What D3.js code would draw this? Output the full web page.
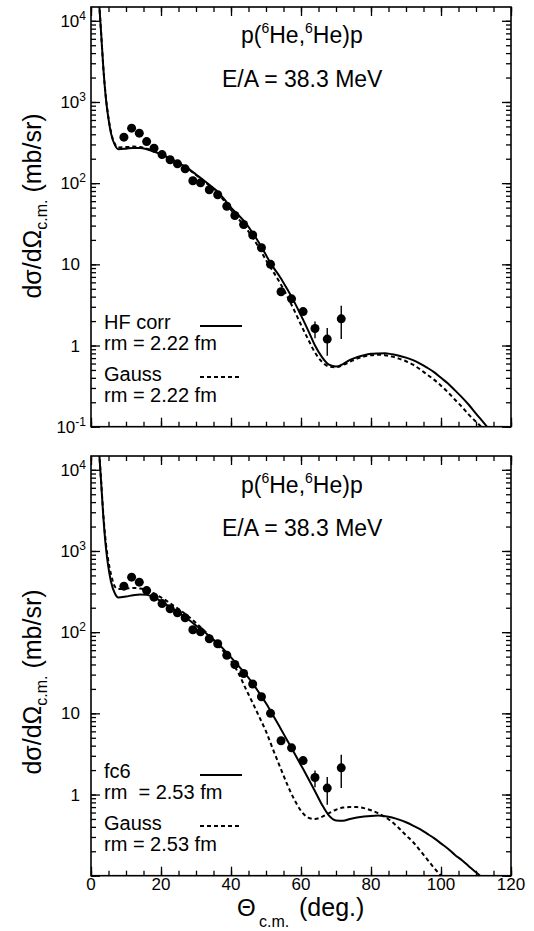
<!DOCTYPE html>
<html><head><meta charset="utf-8">
<script src="https://cdn.jsdelivr.net/npm/d3@7"></script>
<style>
html,body{margin:0;padding:0;background:#fff;}
svg{display:block;font-family:"Liberation Sans",Arial,Helvetica,sans-serif;}
</style></head>
<body><svg id="c" width="534" height="931"></svg>
<script>
// ---- data ----
const expTheta = [9.4,11.6,13.8,15.9,18.0,20.3,22.6,24.7,26.9,29.1,31.3,33.8,36.2,38.8,41.1,43.6,46.2,48.7,51.3,54.3,57.3,60.6,64.0,67.5,71.5];
const expSigma = [369,476,413,325,270,225,194,173,150,107,101,83,72,52,40,31,23,16,10,4.6,3.76,2.62,1.62,1.20,2.13];
const expErrLo = [0,0,0,0,0,0,0,0,0,0,0,0,0,0,0,0,0,0,0,0,0,0,0.39,0.45,0.93];
const expErrHi = [0,0,0,0,0,0,0,0,0,0,0,0,0,0,0,0,0,0,0,0,0,0,0.36,0.44,0.95];

const curveTheta = [2.2,2.9,3.5,4.3,4.9,5.7,6.9,7.8,10,12,14,16,18,20,22,24,26,28,30,32,34,36,38,40,42,44,46,48,50,52,54,56,58,60,62,64,66,68,70,72,74,76,78,80,82,84,86,88,90,92,94,96,98,100,102,104,106,108,110,112,114];
const hfCorr  = [20000,7000,2730,1060,660,413,290,262,266,272,272,262,245,228,207,187,168,149,128,110,94,80,64,50,41,33,25,18.5,13,9.3,7.0,5.0,3.5,2.35,1.55,1.0,0.72,0.58,0.55,0.59,0.665,0.72,0.76,0.79,0.80,0.805,0.78,0.75,0.71,0.66,0.60,0.535,0.47,0.40,0.34,0.28,0.23,0.185,0.145,0.115,0.09];
const gaussA  = [20000,7000,2730,1080,680,430,300,275,278,282,278,265,247,228,207,186,166,147,126,108,92,77,61,47,37,29,22,16,11.3,8.2,5.9,4.1,2.75,1.8,1.2,0.82,0.63,0.55,0.54,0.575,0.63,0.69,0.73,0.76,0.77,0.76,0.73,0.69,0.64,0.58,0.51,0.44,0.38,0.32,0.265,0.215,0.175,0.14,0.115,0.095,0.075];
const fc6     = [20000,7000,2730,1060,660,420,295,268,275,285,292,288,268,240,212,187,163,141,121,104,88,74,61,49,39,31,24,18,13.3,9.5,6.7,4.7,3.3,2.3,1.6,1.1,0.75,0.55,0.48,0.475,0.50,0.52,0.535,0.545,0.55,0.54,0.52,0.49,0.455,0.415,0.375,0.33,0.29,0.25,0.215,0.18,0.155,0.13,0.11,0.093,0.078];
const gaussB  = [20000,7200,2900,1200,780,520,360,340,345,350,345,330,300,268,237,207,180,154,130,108,89,72,57,44,32,21,14,9.2,6.0,3.6,2.2,1.35,0.88,0.63,0.52,0.50,0.53,0.59,0.65,0.69,0.70,0.70,0.68,0.64,0.59,0.53,0.46,0.385,0.315,0.26,0.205,0.16,0.125,0.10,0.08,0.065,0.05,0.04,0.03,0.025,0.02];

const xTickValues = [0,20,40,60,80,100,120];
const yMajor = [0.1,1,10,100,1000,10000];

const panels = [
  {top:7, bottom:426.7, solid:hfCorr, dashed:gaussA,
   legend:[["HF corr","rm = 2.22 fm"],["Gauss","rm = 2.22 fm"]],
   yLabels:[0.1,1,10,100,1000,10000], xLabels:false, titleY:43, energyY:87, yTitleCenter:206},
  {top:456, bottom:875.7, solid:fc6, dashed:gaussB,
   legend:[["fc6","rm  = 2.53 fm"],["Gauss","rm = 2.53 fm"]],
   yLabels:[1,10,100,1000,10000], xLabels:true, titleY:493, energyY:536, yTitleCenter:682}
];

const svg = d3.select("#c");
const L = 91, R = 511;
const x = d3.scaleLinear().domain([0,120]).range([L,R]);

const xMinor = d3.range(0,121,5);
function yMinorTicks(){
  const out=[];
  for(let e=-1;e<=4;e++) for(let k=1;k<=9;k++){const v=k*Math.pow(10,e); if(v<=Math.pow(10,4.17)) out.push(v);}
  return out;
}

panels.forEach((p,i)=>{
  const y = d3.scaleLog().domain([0.1,Math.pow(10,4.17)]).range([p.bottom,p.top]);
  const g = svg.append("g");
  const clipId = "clip"+i;
  svg.append("defs").append("clipPath").attr("id",clipId)
    .append("rect").attr("x",L).attr("y",p.top).attr("width",R-L).attr("height",p.bottom-p.top);

  // axes: ticks inward on all four sides
  const axStyle = sel=>{sel.select(".domain").remove(); sel.selectAll("line").attr("stroke","#000").attr("stroke-width",1.3); sel.selectAll("text").remove();};
  g.append("g").attr("transform",`translate(0,${p.bottom})`).call(d3.axisBottom(x).tickValues(xMinor).tickSize(-5)).call(axStyle);
  g.append("g").attr("transform",`translate(0,${p.bottom})`).call(d3.axisBottom(x).tickValues(xTickValues).tickSize(-9)).call(axStyle);
  g.append("g").attr("transform",`translate(0,${p.top})`).call(d3.axisTop(x).tickValues(xMinor).tickSize(-5)).call(axStyle);
  g.append("g").attr("transform",`translate(0,${p.top})`).call(d3.axisTop(x).tickValues(xTickValues).tickSize(-9)).call(axStyle);
  g.append("g").attr("transform",`translate(${L},0)`).call(d3.axisLeft(y).tickValues(yMinorTicks()).tickSize(-5)).call(axStyle);
  g.append("g").attr("transform",`translate(${L},0)`).call(d3.axisLeft(y).tickValues(yMajor).tickSize(-9)).call(axStyle);
  g.append("g").attr("transform",`translate(${R},0)`).call(d3.axisRight(y).tickValues(yMinorTicks()).tickSize(-5)).call(axStyle);
  g.append("g").attr("transform",`translate(${R},0)`).call(d3.axisRight(y).tickValues(yMajor).tickSize(-9)).call(axStyle);

  g.append("rect").attr("x",L).attr("y",p.top).attr("width",R-L).attr("height",p.bottom-p.top)
    .attr("fill","none").attr("stroke","#000").attr("stroke-width",1.6);

  // y tick labels
  p.yLabels.forEach(v=>{
    const e = Math.round(Math.log10(v));
    const t = g.append("text").attr("x",86).attr("y",y(v)+6).attr("text-anchor","end").attr("font-size",17);
    if(e===0||e===1){ t.text(String(v)); t.attr("x",80);}
    else { t.append("tspan").text("10"); t.append("tspan").attr("dy",-7).attr("font-size",12).text(String(e)); }
  });
  if(p.xLabels){
    xTickValues.forEach(v=>{
      g.append("text").attr("x",x(v)).attr("y",p.bottom+14.5).attr("text-anchor","middle").attr("font-size",17).text(v);
    });
  }

  // curves
  const line = d3.line().x((d,j)=>x(curveTheta[j])).y(d=>y(d)).curve(d3.curveMonotoneX);
  const cg = g.append("g").attr("clip-path",`url(#${clipId})`);
  cg.append("path").attr("d",line(p.solid)).attr("fill","none").attr("stroke","#000").attr("stroke-width",2);
  cg.append("path").attr("d",line(p.dashed)).attr("fill","none").attr("stroke","#000").attr("stroke-width",2).attr("stroke-dasharray","4,3");

  // data points
  expTheta.forEach((t,j)=>{
    if(expErrLo[j]>0){
      cg.append("line").attr("x1",x(t)).attr("x2",x(t)).attr("y1",y(expSigma[j]-expErrLo[j])).attr("y2",y(expSigma[j]+expErrHi[j]))
        .attr("stroke","#000").attr("stroke-width",1.4);
    }
    cg.append("circle").attr("cx",x(t)).attr("cy",y(expSigma[j])).attr("r",4.5).attr("fill","#000");
  });

  // titles inside panel
  const tt = g.append("text").attr("x",241).attr("y",p.titleY).attr("font-size",23);
  tt.append("tspan").text("p(");
  tt.append("tspan").attr("dy",-10).attr("font-size",14).text("6");
  tt.append("tspan").attr("dy",10).text("He,");
  tt.append("tspan").attr("dy",-10).attr("font-size",14).text("6");
  tt.append("tspan").attr("dy",10).text("He)p");
  g.append("text").attr("x",222).attr("y",p.energyY).attr("font-size",23).text("E/A = 38.3 MeV");

  // legend
  const lb = p.top + 322;
  const ly = [lb, lb+21, lb+52, lb+73];
  g.append("text").attr("x",104).attr("y",ly[0]).attr("font-size",20).text(p.legend[0][0]);
  g.append("text").attr("x",104).attr("y",ly[1]).attr("font-size",20).attr("xml:space","preserve").text(p.legend[0][1]);
  g.append("text").attr("x",104).attr("y",ly[2]).attr("font-size",20).text(p.legend[1][0]);
  g.append("text").attr("x",104).attr("y",ly[3]).attr("font-size",20).text(p.legend[1][1]);
  g.append("line").attr("x1",200).attr("x2",242).attr("y1",ly[0]-3).attr("y2",ly[0]-3).attr("stroke","#000").attr("stroke-width",2);
  g.append("line").attr("x1",200).attr("x2",242).attr("y1",ly[2]-4).attr("y2",ly[2]-4).attr("stroke","#000").attr("stroke-width",2).attr("stroke-dasharray","4,3");

  // y axis title
  const yt = g.append("text").attr("transform",`translate(41,${p.yTitleCenter}) rotate(-90)`).attr("text-anchor","middle").attr("font-size",25);
  yt.append("tspan").text("dσ/dΩ");
  yt.append("tspan").attr("dy",6).attr("font-size",16).text("c.m.");
  yt.append("tspan").attr("dy",-6).text(" (mb/sr)");
});

// x axis title
svg.append("text").attr("x",237).attr("y",916).attr("font-size",24).text("Θ");
svg.append("text").attr("x",259).attr("y",927).attr("font-size",16).text("c.m.");
svg.append("text").attr("x",299).attr("y",916).attr("font-size",25).text("(deg.)");
</script></body></html>
